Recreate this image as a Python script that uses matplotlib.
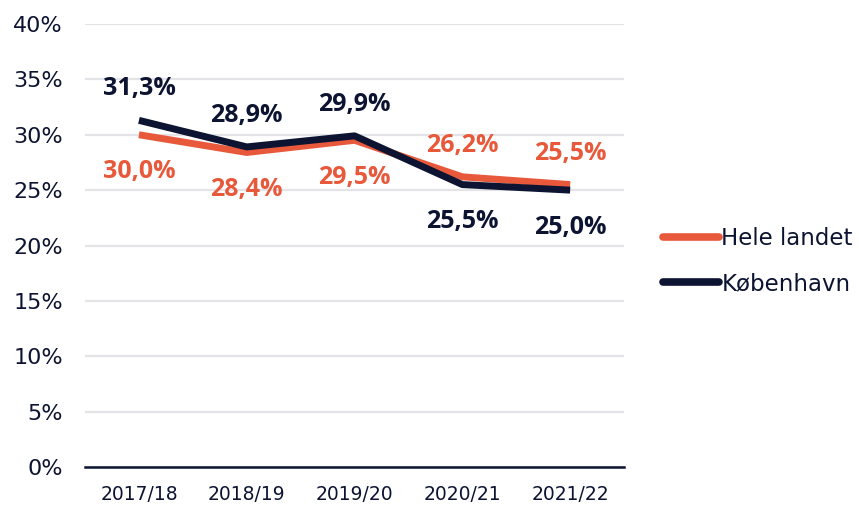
import matplotlib

matplotlib.use("Agg")
import matplotlib.pyplot as plt
from matplotlib.ticker import FuncFormatter, MultipleLocator

NAVY = "#0c1431"
ORANGE = "#e8593c"

years = ["2017/18", "2018/19", "2019/20", "2020/21", "2021/22"]
hele_landet = [30.0, 28.4, 29.5, 26.2, 25.5]
koebenhavn = [31.3, 28.9, 29.9, 25.5, 25.0]
# +1 = label above the point, -1 = below
hele_side = [-1, -1, -1, 1, 1]
kbh_side = [1, 1, 1, -1, -1]

plt.rcParams["font.family"] = ["DejaVu Sans"]

fig = plt.figure(figsize=(8.59, 5.05), dpi=100)
ax = fig.add_axes([0.099, 0.0752, 0.6275, 0.8773])

x = list(range(len(years)))
l1, = ax.plot(x, hele_landet, color=ORANGE, linewidth=5, solid_capstyle="butt",
              label="Hele landet", zorder=3)
l2, = ax.plot(x, koebenhavn, color=NAVY, linewidth=5, solid_capstyle="butt",
              label="København", zorder=4)


def pct(v):
    return f"{v:.1f}".replace(".", ",") + "%"


def label(xi, v, side, color):
    dy = 18 if side > 0 else -31.5
    ax.annotate(pct(v), (xi, v), xytext=(0, dy), textcoords="offset points",
                ha="center", va="baseline", fontsize=18, fontweight="bold",
                color=color, family=["Open Sans", "DejaVu Sans"])


for xi, v, s in zip(x, hele_landet, hele_side):
    label(xi, v, s, ORANGE)
for xi, v, s in zip(x, koebenhavn, kbh_side):
    label(xi, v, s, NAVY)

ax.set_xlim(-0.5, 4.5)
ax.set_ylim(0, 40)
ax.yaxis.set_major_locator(MultipleLocator(5))
ax.yaxis.set_major_formatter(FuncFormatter(lambda v, _: f"{v:.0f}%"))
ax.set_xticks(x)
ax.set_xticklabels(years)
ax.grid(axis="y", color="#e4e4e8", linewidth=1.6)
ax.set_axisbelow(True)
for side in ["top", "right", "left"]:
    ax.spines[side].set_visible(False)
ax.spines["bottom"].set_color(NAVY)
ax.spines["bottom"].set_linewidth(1.8)
ax.spines["bottom"].set_zorder(5)
ax.tick_params(axis="both", length=0, colors=NAVY)
ax.tick_params(axis="y", pad=16, labelsize=16)
ax.tick_params(axis="x", pad=13, labelsize=13.5)

leg = fig.legend(handles=[l1, l2], loc="center left", bbox_to_anchor=(663 / 859, 0.483),
                 frameon=False, fontsize=16.5, handlelength=2.45, handletextpad=0.1,
                 labelspacing=0.95, borderpad=0, borderaxespad=0, labelcolor=NAVY)
for h in leg.get_lines():
    h.set_linewidth(5.5)
    h.set_solid_capstyle("round")

fig.savefig("out.png", dpi=100)
